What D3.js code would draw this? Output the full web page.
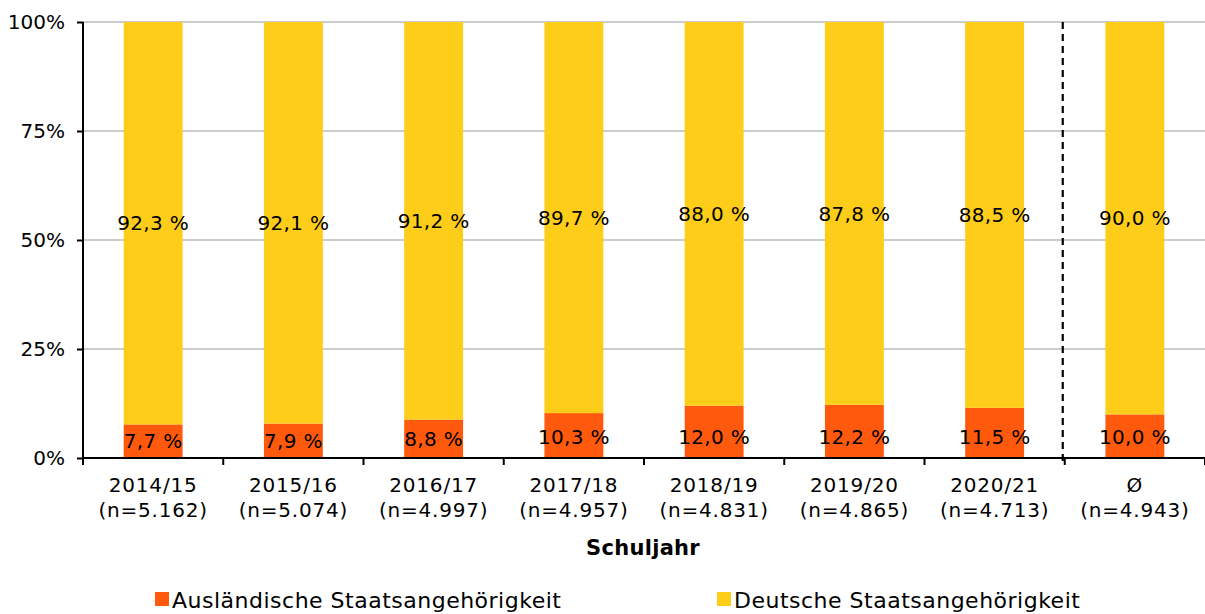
<!DOCTYPE html>
<head>
  <meta charset="utf-8">
  <script src="https://cdn.jsdelivr.net/npm/d3@7"></script>
  <style>
    body { margin:0; background:#fff; }
    svg { display:block; font-family:"DejaVu Sans", sans-serif; }
  </style>
</head>
<body>
  <script>
  // data
  var years = ["2014/15", "2015/16", "2016/17", "2017/18", "2018/19", "2019/20", "2020/21", "Ø"];
  var counts = ["(n=5.162)", "(n=5.074)", "(n=4.997)", "(n=4.957)", "(n=4.831)", "(n=4.865)", "(n=4.713)", "(n=4.943)"];
  var auslaendisch = [7.7, 7.9, 8.8, 10.3, 12.0, 12.2, 11.5, 10.0];
  var deutsch = [92.3, 92.1, 91.2, 89.7, 88.0, 87.8, 88.5, 90.0];
  var yTicks = [0, 25, 50, 75, 100];
  var seriesNames = ["Ausländische Staatsangehörigkeit", "Deutsche Staatsangehörigkeit"];
  var colors = ["#FF590D", "#FDCD19"];

  var width = 1205, height = 614;
  var pLeft = 83, pRight = 1205, pTop = 22, pBottom = 458;

  var svg = d3.select("body").append("svg")
    .attr("width", width).attr("height", height);

  var x = d3.scaleBand().domain(years).range([pLeft, pRight]).paddingInner(0.58).paddingOuter(0.29);
  var y = d3.scaleLinear().domain([0, 100]).range([pBottom, pTop]);

  // grid lines
  svg.selectAll("line.grid")
    .data(yTicks.filter(function(d){ return d > 0; })).enter()
    .append("line")
    .attr("x1", pLeft).attr("x2", pRight)
    .attr("y1", function(d){ return y(d); }).attr("y2", function(d){ return y(d); })
    .attr("stroke", "#bbb").attr("stroke-width", 1.3);

  var fmt = function(v){ return v.toFixed(1).replace(".", ",") + " %"; };

  // stacked bars
  var rows = years.map(function(yr, i){ return {year: yr, a: auslaendisch[i], d: deutsch[i]}; });
  var stack = d3.stack().keys(["a", "d"])(rows);

  stack.forEach(function(layer, li){
    svg.selectAll("rect.s" + li)
      .data(layer).enter()
      .append("rect")
      .attr("x", function(d){ return x(d.data.year); })
      .attr("width", x.bandwidth())
      .attr("y", function(d){ return y(d[1]); })
      .attr("height", function(d){ return y(d[0]) - y(d[1]); })
      .attr("fill", colors[li]);

    svg.selectAll("text.s" + li)
      .data(layer).enter()
      .append("text")
      .attr("x", function(d){ return x(d.data.year) + x.bandwidth() / 2; })
      .attr("y", function(d){
        var mid = y((d[0] + d[1]) / 2);
        return li == 0 ? Math.max(mid, 437) : mid;
      })
      .attr("dy", "0.36em")
      .attr("text-anchor", "middle")
      .attr("font-size", 20)
      .attr("letter-spacing", 0.3)
      .attr("fill", "#000")
      .text(function(d){ return fmt(d[1] - d[0]); });
  });

  // y axis
  var yAxis = d3.axisLeft(y).tickValues(yTicks).tickSize(6).tickFormat(function(d){ return d + "%"; });
  var gy = svg.append("g").attr("transform", "translate(" + pLeft + ",0)").call(yAxis);
  gy.select(".domain").attr("stroke", "#000").attr("stroke-width", 2).attr("d", "M0," + pTop + "V" + pBottom);
  gy.selectAll(".tick line").attr("stroke", "#000").attr("stroke-width", 2);
  gy.selectAll(".tick text").attr("font-size", 20).attr("font-family", "DejaVu Sans").attr("fill", "#000").attr("x", -18);

  // x axis baseline and boundary ticks
  svg.append("line").attr("x1", pLeft).attr("x2", pRight).attr("y1", pBottom).attr("y2", pBottom)
    .attr("stroke", "#000").attr("stroke-width", 2);
  svg.selectAll("line.xt")
    .data(d3.range(years.length + 1)).enter()
    .append("line")
    .attr("x1", function(i){ return pLeft + i * (pRight - pLeft) / years.length; })
    .attr("x2", function(i){ return pLeft + i * (pRight - pLeft) / years.length; })
    .attr("y1", pBottom).attr("y2", pBottom + 7)
    .attr("stroke", "#000").attr("stroke-width", 2);

  // dashed separator before average
  var sepX = pLeft + 7 * (pRight - pLeft) / years.length - 2;
  svg.append("line").attr("x1", sepX).attr("x2", sepX).attr("y1", pTop).attr("y2", pBottom + 5)
    .attr("stroke", "#000").attr("stroke-width", 2.2).attr("stroke-dasharray", "7,5");

  // category labels
  var lab = svg.selectAll("text.cat").data(years).enter()
    .append("text")
    .attr("text-anchor", "middle")
    .attr("font-size", 20)
    .attr("letter-spacing", 0.8)
    .attr("fill", "#000");
  lab.append("tspan")
    .attr("x", function(d){ return x(d) + x.bandwidth() / 2; })
    .attr("y", 492)
    .text(function(d){ return d; });
  lab.append("tspan")
    .attr("x", function(d){ return x(d) + x.bandwidth() / 2; })
    .attr("y", 517)
    .text(function(d, i){ return counts[i]; });

  svg.append("text").attr("x", 643).attr("y", 555)
    .attr("text-anchor", "middle").attr("font-size", 21).attr("font-weight", "bold")
    .attr("letter-spacing", 0.3)
    .text("Schuljahr");

  // legend
  var legendX = [155, 717];
  seriesNames.forEach(function(name, i){
    svg.append("rect").attr("x", legendX[i]).attr("y", 592).attr("width", 14).attr("height", 14).attr("fill", colors[i]);
    svg.append("text").attr("x", legendX[i] + 17).attr("y", 608)
      .attr("font-size", 22).attr("letter-spacing", 0.5).attr("fill", "#000").text(name);
  });
  </script>
</body>
</html>
